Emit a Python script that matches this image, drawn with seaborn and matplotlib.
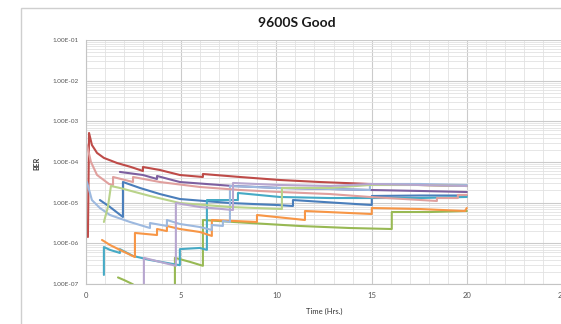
import numpy as np
import pandas as pd
import matplotlib
matplotlib.use("Agg")
import matplotlib.pyplot as plt
import seaborn as sns
from matplotlib.ticker import FixedLocator, MultipleLocator, LogLocator, FuncFormatter, NullFormatter
from matplotlib.patches import Rectangle

# ---- data (time in hours, BER) ----
red_t = [0.10, 0.16, 0.31, 0.58, 0.94, 1.63, 2.36, 2.99, 2.99, 3.88, 4.93, 6.14, 6.14, 8.08, 10.18, 12.28, 14.91, 17.53, 20.0]
red_y = [1.43e-6, 5.17e-4, 2.62e-4, 1.67e-4, 1.26e-4, 9.45e-5, 7.54e-5, 6.01e-5, 7.54e-5, 6.36e-5, 4.79e-5, 4.28e-5, 5.07e-5, 4.28e-5, 3.61e-5, 3.22e-5, 2.88e-5, 2.72e-5, 2.57e-5]

purple_t = [1.78, 2.99, 3.73, 3.73, 4.93, 7.72, 10.18, 12.81, 14.91, 17.53, 20.0]
purple_y = [5.7e-5, 4.79e-5, 3.82e-5, 4.53e-5, 3.22e-5, 2.57e-5, 2.30e-5, 2.17e-5, 2.05e-5, 1.94e-5, 1.83e-5]

pink_t = [0.05, 0.26, 0.58, 1.21, 1.42, 1.42, 2.47, 2.47, 3.88, 5.98, 8.08, 10.18, 12.81, 14.91, 18.43, 18.43, 19.53, 19.53, 20.0]
pink_y = [2.62e-4, 1.0e-4, 4.79e-5, 2.88e-5, 2.72e-5, 4.28e-5, 3.22e-5, 4.28e-5, 3.22e-5, 2.43e-5, 2.05e-5, 1.83e-5, 1.63e-5, 1.38e-5, 1.10e-5, 1.30e-5, 1.30e-5, 1.55e-5, 1.55e-5]

blue_t = [0.73, 1.26, 1.94, 1.94, 2.83, 3.88, 4.93, 7.56, 10.03, 10.87, 10.87, 13.33, 15.01, 15.01, 17.53, 20.0]
blue_y = [1.16e-5, 7.82e-6, 4.44e-6, 3.22e-5, 2.30e-5, 1.63e-5, 1.23e-5, 9.8e-6, 8.76e-6, 8.28e-6, 1.16e-5, 9.8e-6, 8.76e-6, 1.46e-5, 1.50e-5, 1.50e-5]

ltblue_t = [0.05, 0.31, 0.73, 1.26, 2.31, 3.36, 3.36, 4.25, 4.25, 4.93, 5.98, 6.61, 6.61, 7.19, 7.19, 7.56, 7.56, 10.03, 12.81, 14.91, 14.91, 17.53, 20.0]
ltblue_y = [3.22e-5, 1.16e-5, 7.39e-6, 4.97e-6, 3.35e-6, 2.38e-6, 3.16e-6, 2.67e-6, 3.75e-6, 2.99e-6, 2.52e-6, 2.13e-6, 2.83e-6, 2.67e-6, 3.55e-6, 3.35e-6, 2.57e-5, 2.30e-5, 2.17e-5, 2.05e-5, 2.88e-5, 2.88e-5, 2.72e-5]

lavender_t = [3.04, 3.04, 3.88, 4.72, 4.72, 5.98, 7.72, 7.72, 10.18, 12.81, 14.91, 17.53, 20.0]
lavender_y = [8e-8, 4.4e-7, 3.5e-7, 2.8e-7, 9.8e-6, 7.82e-6, 6.60e-6, 3.05e-5, 2.72e-5, 2.57e-5, 2.88e-5, 2.72e-5, 2.57e-5]

ltgreen_t = [0.94, 1.15, 1.31, 1.78, 2.57, 3.36, 4.93, 7.56, 10.29, 10.29, 12.81, 14.91, 17.53, 20.0]
ltgreen_y = [3.35e-6, 7.82e-6, 2.57e-5, 2.30e-5, 1.83e-5, 1.46e-5, 9.8e-6, 7.82e-6, 6.98e-6, 2.30e-5, 2.30e-5, 2.72e-5, 2.72e-5, 2.57e-5]

orange_t = [0.84, 1.26, 1.78, 2.57, 2.57, 3.73, 3.73, 4.25, 4.25, 4.93, 5.98, 6.61, 6.61, 8.98, 8.98, 11.5, 11.5, 15.01, 15.01, 17.53, 19.9, 20.0]
orange_y = [1.21e-6, 9.1e-7, 6.9e-7, 4.6e-7, 1.80e-6, 1.60e-6, 2.25e-6, 2.0e-6, 2.67e-6, 2.25e-6, 1.90e-6, 1.52e-6, 3.75e-6, 3.35e-6, 4.97e-6, 3.75e-6, 6.24e-6, 5.26e-6, 7.39e-6, 6.98e-6, 6.24e-6, 7.39e-6]

aqua_t = [0.94, 0.94, 1.26, 1.78, 1.78, 2.47, 3.36, 4.93, 4.93, 5.98, 6.35, 6.35, 7.98, 7.98, 10.18, 12.81, 14.91, 17.53, 20.0]
aqua_y = [1.67e-7, 8.1e-7, 6.9e-7, 5.8e-7, 7.2e-7, 4.9e-7, 3.9e-7, 2.9e-7, 7.2e-7, 7.7e-7, 6.9e-7, 1.16e-5, 1.16e-5, 1.73e-5, 1.38e-5, 1.30e-5, 1.30e-5, 1.30e-5, 1.38e-5]

green_a_t = [1.68, 2.05, 2.47]
green_a_y = [1.45e-7, 1.22e-7, 9.8e-8]
green_b_t = [4.67, 4.67, 5.46, 6.14, 6.14, 8.61, 11.23, 13.86, 16.06, 16.06, 18.06, 20.0]
green_b_y = [8e-8, 4.4e-7, 3.5e-7, 2.8e-7, 3.75e-6, 3.16e-6, 2.67e-6, 2.38e-6, 2.25e-6, 5.89e-6, 5.89e-6, 6.24e-6]

y_ticks = [1e-7, 1e-6, 1e-5, 1e-4, 1e-3, 1e-2, 1e-1]
x_ticks = [0, 5, 10, 15, 20, 25]

series = [
    ("Blue", "a", blue_t, blue_y),
    ("Red", "a", red_t, red_y),
    ("Green", "a", green_a_t, green_a_y),
    ("Green", "b", green_b_t, green_b_y),
    ("Purple", "a", purple_t, purple_y),
    ("Aqua", "a", aqua_t, aqua_y),
    ("Orange", "a", orange_t, orange_y),
    ("LightBlue", "a", ltblue_t, ltblue_y),
    ("Pink", "a", pink_t, pink_y),
    ("LightGreen", "a", ltgreen_t, ltgreen_y),
    ("Lavender", "a", lavender_t, lavender_y),
]
palette = {
    "Blue": "#4A7EBB", "Red": "#BE4B48", "Green": "#98B954", "Purple": "#7D60A0",
    "Aqua": "#46AAC5", "Orange": "#F79646", "LightBlue": "#9DB9DF", "Pink": "#E0A09E",
    "LightGreen": "#B9D38A", "Lavender": "#B7A6CF",
}

rows = []
for name, seg, ts, ys in series:
    for i, (t, y) in enumerate(zip(ts, ys)):
        rows.append({"series": name, "unit": name + seg, "order": i, "time": t, "ber": y})
df = pd.DataFrame(rows)

sns.set_theme(style="white")
plt.rcParams["font.family"] = ["Lato", "DejaVu Sans"]

fig = plt.figure(figsize=(5.61, 3.24), dpi=100)
ax = fig.add_axes([86 / 561, 40 / 324, 476 / 561, 244 / 324])

ax.set_yscale("log")
ax.set_xlim(0, 25)
ax.set_ylim(1e-7, 1e-1)

ax.yaxis.set_major_locator(FixedLocator(y_ticks))
ax.yaxis.set_minor_locator(LogLocator(base=10, subs=np.arange(2, 10)))
ax.yaxis.set_minor_formatter(NullFormatter())
ax.yaxis.set_major_formatter(FuncFormatter(lambda v, p: f"{v:.2E}"))
ax.xaxis.set_major_locator(FixedLocator(x_ticks))
ax.xaxis.set_minor_locator(MultipleLocator(1))

ax.grid(which="major", axis="both", color="#cbcbcb", lw=0.8)
ax.grid(which="minor", axis="both", color="#e2e2e2", lw=0.6)
ax.set_axisbelow(True)

sns.lineplot(data=df, x="time", y="ber", hue="series", units="unit", estimator=None,
             sort=False, palette=palette, lw=1.5, legend=False, ax=ax)

ax.set_xlabel("")
ax.set_ylabel("")
ax.tick_params(axis="y", which="both", length=0, pad=5.5, labelsize=4.6, labelcolor="#555555")
ax.tick_params(axis="x", which="both", length=0, pad=5.5, labelsize=5.5, labelcolor="#555555")
for s in ["top", "right"]:
    ax.spines[s].set_visible(False)
for s in ["left", "bottom"]:
    ax.spines[s].set_color("#c4c4c4")
    ax.spines[s].set_linewidth(0.8)

fig.text(297 / 561, 1 - 23 / 324, "9600S Good", ha="center", va="center",
         fontsize=10, fontweight="bold", color="#1a1a1a")
fig.text(37 / 561, 1 - 163 / 324, "BER", rotation=90, ha="center", va="center",
         fontsize=5, fontweight="bold", color="#333333")
fig.text(324 / 561, 1 - 311 / 324, "Time (Hrs.)", ha="center", va="center",
         fontsize=5.5, color="#333333")

fig.patches.append(Rectangle((20.5 / 561, -0.2), 2, 1.2 - 8 / 324, transform=fig.transFigure,
                             fill=False, edgecolor="#cfcfcf", lw=1.0))

fig.savefig("out.png", dpi=100)
